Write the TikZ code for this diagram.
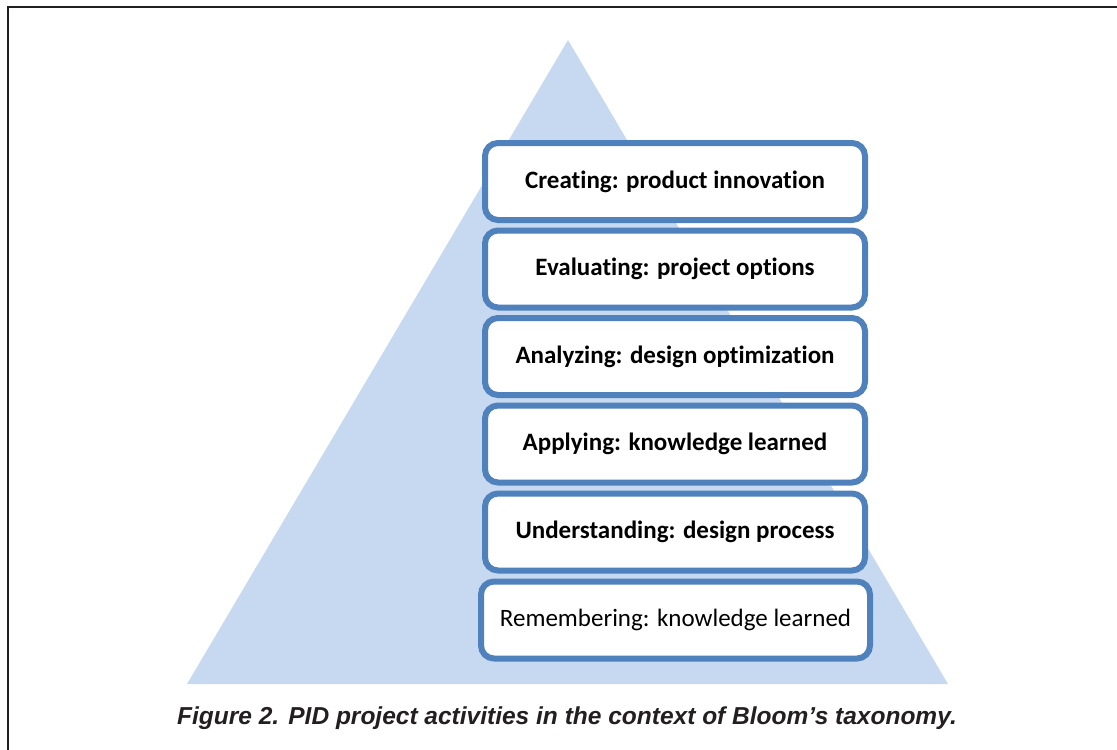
\documentclass[tikz,border=0pt]{standalone}
\usepackage{fontspec}
\setmainfont{Carlito}[Ligatures={NoCommon}]
\newfontfamily\capfont{Liberation Sans}
\definecolor{pyramid}{RGB}{198,217,240}
\definecolor{boxline}{RGB}{79,129,189}
\definecolor{ink}{RGB}{35,31,32}
\begin{document}
\begin{tikzpicture}[x=1pt,y=-1pt,
  level/.style={draw=boxline, line width=6pt, fill=white, rounded corners=13pt,
    minimum width=380pt, minimum height=77pt, inner sep=0pt,
    font=\fontsize{25}{30}\selectfont\bfseries, text=black},
  frameline/.style={draw=ink, line width=2pt}]
\useasboundingbox (0,0) rectangle (1117,750);
% page frame (top and left edges)
\draw[frameline] (8,750) -- (8,6.5) -- (1117,6.5);
% pyramid
\coordinate (apex) at (568,40);
\coordinate (bl) at (187,684);
\coordinate (br) at (948,684);
\fill[pyramid] (apex) -- (bl) -- (br) -- cycle;
% taxonomy levels
\node[level] (create) at (675,181.5) {Creating: product innovation};
\node[level] (eval)   at (675,269)   {Evaluating: project options};
\node[level] (analyze) at (675,356.5) {Analyzing: design optimization};
\node[level] (apply)  at (675,444)   {Applying: knowledge learned};
\node[level] (under)  at (675,532)   {Understanding: design process};
\node[level, minimum width=389pt, font=\fontsize{25}{30}\selectfont] (remember) at (675.5,620) {Remembering: knowledge learned};
% caption
\node[text=ink, font=\capfont\fontsize{24.5}{29}\selectfont\bfseries\itshape] (caption) at (567,718) {Figure 2. PID project activities in the context of Bloom’s taxonomy.};
\end{tikzpicture}
\end{document}
